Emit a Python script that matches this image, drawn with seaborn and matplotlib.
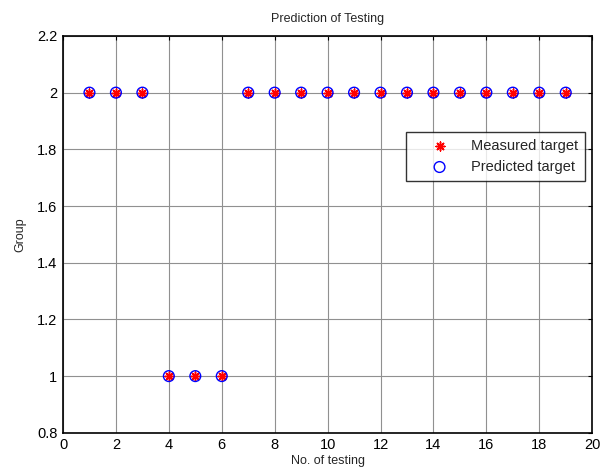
import matplotlib
matplotlib.use("Agg")
import matplotlib.pyplot as plt
import seaborn as sns
import pandas as pd

samples = list(range(1, 20))
measured = [2, 2, 2, 1, 1, 1, 2, 2, 2, 2, 2, 2, 2, 2, 2, 2, 2, 2, 2]
predicted = [2, 2, 2, 1, 1, 1, 2, 2, 2, 2, 2, 2, 2, 2, 2, 2, 2, 2, 2]
xticks = list(range(0, 21, 2))
yticks = [0.8, 1, 1.2, 1.4, 1.6, 1.8, 2, 2.2]
ytick_labels = ["0.8", "1", "1.2", "1.4", "1.6", "1.8", "2", "2.2"]

sns.set_style("white")
plt.rcParams['font.family'] = ['Liberation Sans', 'DejaVu Sans']

df = pd.DataFrame({"x": samples, "measured": measured, "predicted": predicted})

fig = plt.figure(figsize=(6, 4.73), dpi=100)
ax = fig.add_axes([0.105, 0.085, 0.882, 0.839])

sns.scatterplot(data=df, x="x", y="measured", ax=ax, marker=(8, 2, 0), s=40,
                color="red", edgecolor="red", linewidth=1.1, label="Measured target", zorder=3)
sns.scatterplot(data=df, x="x", y="predicted", ax=ax, marker="o", s=60,
                facecolor="none", edgecolor="blue", linewidth=1.0, label="Predicted target", zorder=4)

ax.set_xlim(0, 20)
ax.set_ylim(0.8, 2.2)
ax.set_xticks(xticks)
ax.set_yticks(yticks)
ax.set_yticklabels(ytick_labels)
ax.grid(True, color="#909090", linewidth=0.8)
ax.set_axisbelow(True)
ax.tick_params(direction="in", length=3, labelsize=10.5, top=True, right=True, pad=4, colors="black")
for s in ax.spines.values():
    s.set_color("black")
    s.set_linewidth(1.2)

ax.set_title("Prediction of Testing", fontsize=9, pad=10)
ax.set_xlabel("No. of testing", fontsize=9, labelpad=2)
ax.set_ylabel("Group", fontsize=9, labelpad=8)

leg = ax.legend(loc="upper right", bbox_to_anchor=(0.987, 0.758), fontsize=10.5, frameon=True,
                fancybox=False, edgecolor="black", borderpad=0.5, labelspacing=0.45,
                handlelength=3.6, handletextpad=0.35, borderaxespad=0)
leg.get_frame().set_linewidth(1.0)

fig.savefig("out.png", dpi=100)
